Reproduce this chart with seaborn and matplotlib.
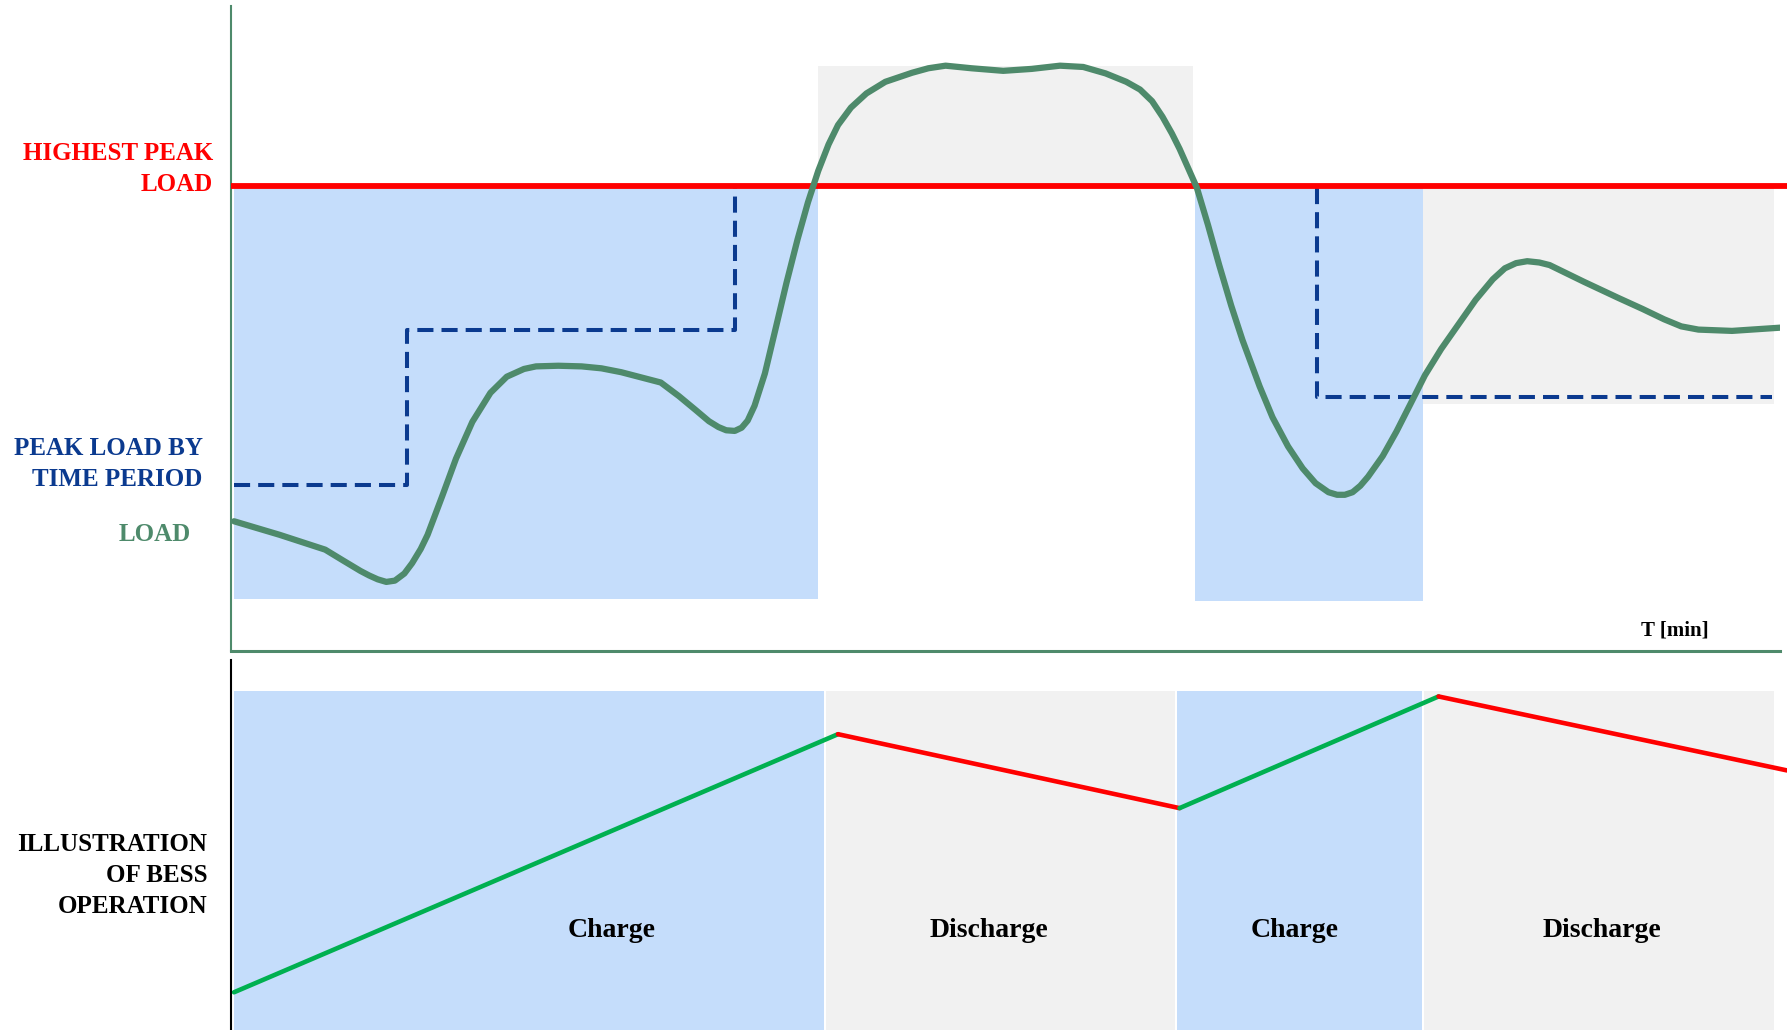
import numpy as np
import pandas as pd
import seaborn as sns
import matplotlib.pyplot as plt

sns.set_style("white")
plt.rcParams["font.family"] = ["Liberation Serif", "DejaVu Serif"]

# colours
red = "#ff0000"
navy = "#0b3a8f"
load_green = "#4e8a6b"
bess_green = "#00b050"
blue_fill = "#c5ddfb"
grey_fill = "#f1f1f1"

# load curve (time, load)
load_t = [0.03, 0.56, 1.09, 1.30, 1.50, 1.60, 1.70, 1.80, 1.90, 2.01, 2.10, 2.20, 2.28, 2.45,
          2.61, 2.80, 3.01, 3.20, 3.40, 3.54, 3.80, 4.07, 4.30, 4.53, 4.99, 5.20, 5.39, 5.55,
          5.66, 5.75, 5.85, 5.93, 6.00, 6.08, 6.20, 6.32, 6.45, 6.58, 6.70, 6.82, 6.94, 7.05,
          7.20, 7.38, 7.60, 7.91, 8.10, 8.30, 8.60, 8.97, 9.30, 9.63, 9.90, 10.16, 10.40,
          10.56, 10.70, 10.82, 10.93, 11.02, 11.12, 11.22, 11.35, 11.48, 11.62, 11.75, 11.95,
          12.10, 12.28, 12.45, 12.60, 12.75, 12.85, 12.94, 13.03, 13.12, 13.21, 13.38, 13.54,
          13.70, 13.87, 14.06, 14.26, 14.46, 14.66, 14.80, 14.93, 15.06, 15.20, 15.32, 15.52,
          15.72, 16.12, 16.40, 16.65, 16.85, 17.05, 17.44, 18.0]
load_v = [2.01, 1.80, 1.57, 1.40, 1.24, 1.17, 1.11, 1.07, 1.09, 1.20, 1.36, 1.58, 1.80, 2.40,
          2.98, 3.55, 4.00, 4.25, 4.37, 4.41, 4.42, 4.41, 4.38, 4.32, 4.16, 3.95, 3.74, 3.56,
          3.47, 3.42, 3.41, 3.46, 3.57, 3.80, 4.30, 4.97, 5.70, 6.38, 6.95, 7.44, 7.85, 8.15,
          8.42, 8.64, 8.82, 8.96, 9.03, 9.07, 9.03, 8.99, 9.02, 9.07, 9.05, 8.95, 8.82,
          8.70, 8.52, 8.28, 8.02, 7.78, 7.48, 7.18, 6.60, 5.98, 5.35, 4.82, 4.10,
          3.62, 3.17, 2.83, 2.60, 2.46, 2.42, 2.42, 2.46, 2.56, 2.70, 3.02, 3.40,
          3.82, 4.27, 4.68, 5.06, 5.44, 5.76, 5.93, 6.01, 6.04, 6.02, 5.98, 5.85,
          5.72, 5.47, 5.30, 5.14, 5.03, 4.98, 4.96, 5.01]

highest_peak = 7.2

# peak load by time period (step levels)
peak1_t = [0.03, 2.04, 2.04, 5.85, 5.85]
peak1_v = [2.57, 2.57, 4.97, 4.97, 7.18]
peak2_t = [12.62, 12.62, 17.9]
peak2_v = [7.18, 3.93, 3.93]

# shaded periods in the load panel: (start, end, low, high)
charge_bands = [(0.03, 6.82, 0.81, 7.2), (11.2, 13.85, 0.78, 7.2)]
discharge_bands = [(6.82, 11.18, 7.2, 9.07), (13.85, 17.93, 3.83, 7.2)]

# BESS state of charge
bess_t = [0.03, 7.05, 11.02, 14.03, 18.08]
bess_v = [1.02, 8.0, 6.0, 9.02, 7.02]
bess_mode = ["Charge", "Discharge", "Charge", "Discharge"]
bess_bands = [(0.03, 6.89), (6.91, 10.97), (10.99, 13.84), (13.86, 17.93)]
bess_label_x = [4.42, 8.81, 12.36, 15.93]

fig = plt.figure(figsize=(17.87, 10.30), dpi=100)
ax1 = fig.add_axes([0.1295, 0.368, 0.8667, 0.6265])
ax2 = fig.add_axes([0.1295, 0.0, 0.8705, 0.359])

# ---- top panel: load
for x0, x1, y0, y1 in charge_bands:
    ax1.fill_between([x0, x1], y0, y1, color=blue_fill, lw=0, zorder=1)
for x0, x1, y0, y1 in discharge_bands:
    ax1.fill_between([x0, x1], y0, y1, color=grey_fill, lw=0, zorder=1)

for tt, vv in [(peak1_t, peak1_v), (peak2_t, peak2_v)]:
    ax1.plot(tt, vv, color=navy, lw=2.9, dashes=(4, 2), zorder=2)

ax1.plot([0, 18.08], [highest_peak, highest_peak], color=red, lw=4.2,
         clip_on=False, zorder=3, solid_capstyle="butt")

load_df = pd.DataFrame({"t": load_t, "load": load_v})
sns.lineplot(data=load_df, x="t", y="load", sort=False, color=load_green, lw=4.5,
             ax=ax1, zorder=4)
ax1.lines[-1].set_solid_capstyle("round")
ax1.lines[-1].set_solid_joinstyle("round")

ax1.set_xlim(0, 18)
ax1.set_ylim(0, 10)
ax1.set_xticks(np.arange(0, 19))
ax1.set_yticks(np.arange(0, 11))
ax1.set_xticklabels([])
ax1.set_yticklabels([])
ax1.tick_params(length=3, width=0.6, color="#d0d0d0", direction="out")
ax1.set_xlabel("")
ax1.set_ylabel("")
for s in ["top", "right"]:
    ax1.spines[s].set_visible(False)
ax1.spines["left"].set_color(load_green)
ax1.spines["left"].set_linewidth(1.5)
ax1.spines["bottom"].set_color(load_green)
ax1.spines["bottom"].set_linewidth(2.2)

# ---- bottom panel: BESS operation
for (x0, x1), mode, lx in zip(bess_bands, bess_mode, bess_label_x):
    ax2.fill_between([x0, x1], 0, 9.17, color=blue_fill if mode == "Charge" else grey_fill,
                     lw=0, zorder=1)
    ax2.text(lx, 2.7, mode, ha="center", va="center",
             fontsize=20, fontweight="bold", color="black", zorder=3)

for i in range(len(bess_t) - 1):
    seg = pd.DataFrame({"t": bess_t[i:i + 2], "soc": bess_v[i:i + 2]})
    sns.lineplot(data=seg, x="t", y="soc", color=bess_green if i % 2 == 0 else red,
                 lw=3.3, ax=ax2, zorder=2)

ax2.set_xlim(0, 18.08)
ax2.set_ylim(0, 10)
ax2.set_xticks([])
ax2.set_yticks(np.arange(0, 11))
ax2.set_yticklabels([])
ax2.tick_params(axis="y", length=3, width=0.6, color="#d0d0d0", direction="out")
ax2.set_xlabel("")
ax2.set_ylabel("")
for s in ["top", "right", "bottom"]:
    ax2.spines[s].set_visible(False)
ax2.spines["left"].set_color("black")
ax2.spines["left"].set_linewidth(1.5)

# ---- labels
fig.text(0.1193, 0.836, "HIGHEST PEAK\nLOAD", ha="right", va="center", color=red,
         fontsize=18, fontweight="bold", linespacing=1.45)
fig.text(0.1135, 0.5497, "PEAK LOAD BY\nTIME PERIOD", ha="right", va="center", color=navy,
         fontsize=18, fontweight="bold", linespacing=1.45)
fig.text(0.0864, 0.4807, "LOAD", ha="center", va="center", color=load_green,
         fontsize=18, fontweight="bold")
fig.text(0.1161, 0.150, "ILLUSTRATION\nOF BESS\nOPERATION", ha="right", va="center",
         color="black", fontsize=18, fontweight="bold", linespacing=1.45)
fig.text(0.937, 0.388, "T [min]", ha="center", va="center", color="black",
         fontsize=15, fontweight="bold")

fig.savefig("out.png", dpi=100)
